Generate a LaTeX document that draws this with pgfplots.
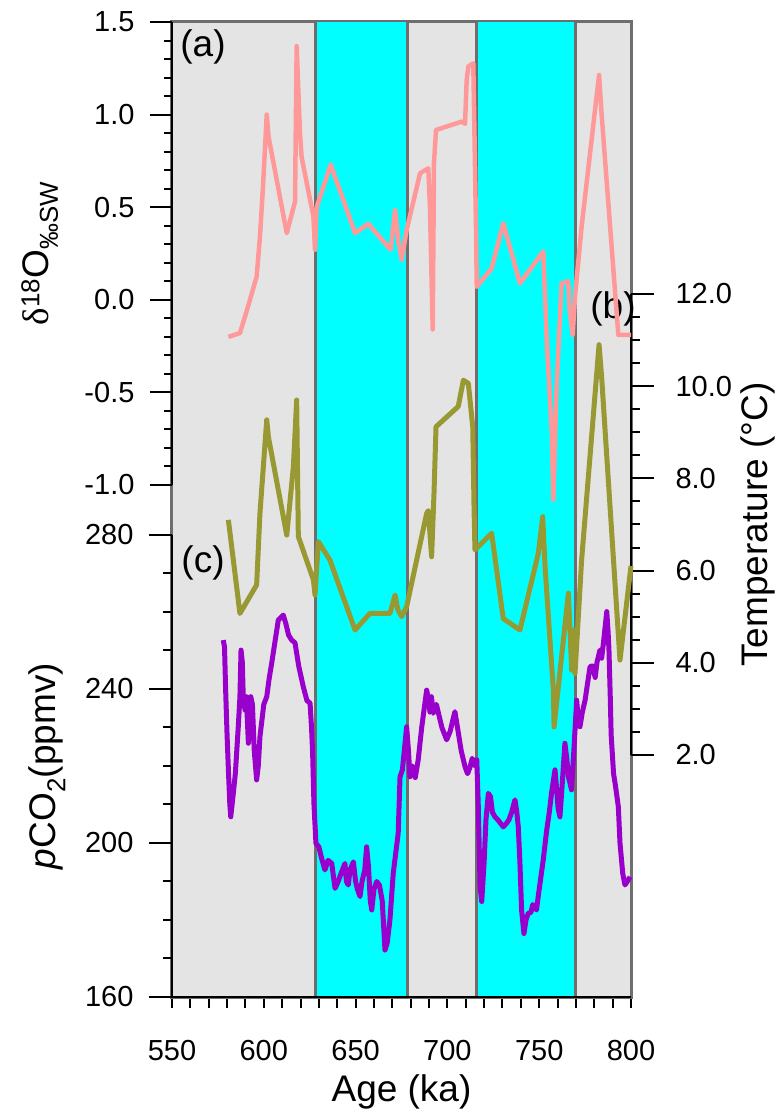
\documentclass[border=0pt]{standalone}
\usepackage{pgfplots}
\pgfplotsset{compat=1.18}
\usepackage{fontspec}
\setmainfont{Liberation Sans}
\newfontfamily\seriffont{Liberation Serif}

\definecolor{bg}{HTML}{E4E4E4}
\definecolor{framegray}{HTML}{6E6E6E}
\definecolor{bandcyan}{HTML}{00FFFF}
\definecolor{pinkline}{HTML}{FF9999}
\definecolor{oliveline}{HTML}{999933}
\definecolor{purpleline}{HTML}{9900CC}

\newcommand{\lblfont}{\fontsize{37}{42}\selectfont}
\pgfplotsset{
  panel/.style={scale only axis, width=459pt, xmin=550, xmax=800, anchor=south west,
    tick style={black, line width=2pt},
    tick label style={font=\fontsize{29}{32}\selectfont},
    /pgf/number format/assume math mode=true,
    no markers, clip=false},
  onedec/.style={yticklabel style={/pgf/number format/fixed,
    /pgf/number format/fixed zerofill, /pgf/number format/precision=1}},
}

\begin{document}
\begin{tikzpicture}
\path[use as bounding box] (-172pt,-116pt) rectangle (609pt,997pt);

% background, interglacial bands, age axis
\begin{axis}[panel, at={(0pt,0pt)}, height=975pt, ymin=0, ymax=1,
  axis background/.style={fill=bg},
  axis line style={draw=framegray, line width=3pt},
  ytick=\empty, xtick={550,600,...,800}, minor x tick num=4, xtick pos=left,
  tick align=outside, major tick length=11pt, minor tick length=11pt,
  xticklabel style={yshift=-29pt},
  xlabel={Age (ka)},
  xlabel style={font=\lblfont, at={(axis description cs:0.5,-0.0974)}, anchor=center}]
\addplot[draw=none, fill=bandcyan] coordinates {(628,1)(678,1)} \closedcycle;
\addplot[draw=none, fill=bandcyan] coordinates {(716,1)(770,1)} \closedcycle;
\addplot[framegray, line width=3pt] coordinates {(628,0)(628,1)};
\addplot[framegray, line width=3pt] coordinates {(678,0)(678,1)};
\addplot[framegray, line width=3pt] coordinates {(716,0)(716,1)};
\addplot[framegray, line width=3pt] coordinates {(770,0)(770,1)};
\end{axis}

\node[font=\lblfont] at (31pt,950pt) {(a)};
\node[font=\lblfont] at (441pt,688pt) {(b)};
\node[font=\lblfont] at (31pt,434pt) {(c)};

% (c) pCO2
\begin{axis}[panel, at={(0pt,0pt)}, height=462pt, ymin=160, ymax=280,
  axis y line=left, axis x line=bottom, axis line style={-, black, line width=2.5pt},
  xtick=\empty, ytick={160,200,240,280}, minor y tick num=3,
  tick align=outside, major tick length=23pt, minor tick length=9pt,
  yticklabel style={xshift=-12pt},
  ylabel={\textit{p}CO\textsubscript{2}(ppmv)},
  ylabel style={font=\lblfont, at={(axis description cs:-0.272,0.5)}, anchor=center}]
\addplot[purpleline, line width=5pt, line join=round] coordinates {
(577.9,252.7)(578.6,251)(579.2,240)(580,228)(580.8,218)(581.5,210)(582,206.8)
(583.4,212.9)(584.5,218)(586.1,230.2)(587,238)(587.6,250.1)(588.3,247)(588.8,238)
(589.8,234.5)(590.5,238)(591.6,225.9)(592.3,232)(592.9,238)(593.8,236)(594.8,224)
(596.1,216.4)(597,220)(597.9,227.6)(599,232)(600,236)(601.6,238)(603,243)(604.3,246.7)
(606,252)(607.9,257.9)(610.6,259.2)(612,257)(613.5,254)(615.2,252.7)(617,252)(619,246)
(621.5,240.6)(623.5,237)(625.2,236.3)(626,230)(626.6,223.3)(627.3,210.3)(628.4,199.9)
(630,199)(631.5,196)(633.3,193)(635,195.5)(637,194.7)(638.8,188.2)(640.5,190)(642,192)
(644.2,194.7)(645,190)(646,189.1)(647,193)(648.8,195.1)(650,190)(651,188)(652.4,186.1)
(653.5,190)(655,193)(656,199)(657,194)(658,185)(658.8,182.6)(660,188)(661.5,190)
(663,189)(664.5,185)(666,172.2)(667.2,174)(668.7,180)(670.5,192.1)(671.5,196)
(673.2,202.5)(674.2,217.2)(675.5,219)(677.8,230.2)(678.8,224)(679.6,217.2)(681,220)
(682.5,217)(684.1,221.6)(686,230)(688.7,239.7)(689.8,237)(690.5,234)(691.3,238)
(692.3,233.7)(694,236)(695,234)(697,230)(699.6,226.8)(701.5,229)(703,232)(704.1,234.1)
(705.5,230)(707.5,224)(709.6,219.8)(711,218)(712.5,220)(713.5,222)(715,220)(716,221.6)
(716.8,210)(717.8,188.6)(718.7,184.8)(720,195)(721,206)(722.3,212.9)(723.5,212)
(724.5,208)(725.9,206.8)(727.5,206)(730.4,204.2)(732,205)(733.5,206)(735,208)
(736.8,211.2)(737.8,208)(738.6,204.2)(739.5,195)(740.4,182.6)(741.7,176.5)(742.8,180)
(744,181.7)(745.5,182)(746.5,184)(748.5,182.6)(750,188)(752.2,195.6)(754,203)
(755.5,208)(756.7,212.9)(758.6,219)(759.5,214)(760.3,209)(761.3,206.8)(762.5,215)
(764,225.9)(765,222)(766,217)(766.8,215.5)(767.6,213.8)(769,225)(770.4,237.1)
(771.3,232)(772.2,230.2)(773.5,234)(775,237.1)(776.5,242)(777.7,245.8)(779,246)
(780.5,243)(781.5,247)(783.1,250.1)(784,248)(785,252)(786.8,260.1)(787.5,255)
(788,250.1)(788.7,238)(789.2,228)(790.5,218)(791.5,215)(793.1,209.4)(794,200)
(795.5,192.1)(796.7,189.1)(798,190)(799.5,191.2)};
\end{axis}

% (b) temperature
\begin{axis}[panel, onedec, at={(0pt,242pt)}, height=461pt, ymin=2, ymax=12,
  axis y line=right, axis x line=none, axis line style={-, black, line width=2.5pt},
  ytick={2,4,6,8,10,12}, minor y tick num=3,
  tick align=outside, major tick length=23pt, minor tick length=9pt,
  yticklabel style={xshift=18pt},
  ylabel={Temperature (°C)},
  ylabel style={font=\lblfont, at={(axis description cs:1.277,0.5)}, anchor=center, rotate=0}]
\addplot[oliveline, line width=5pt, line join=round] coordinates {
(580.7,7.10)(587,5.07)(596.1,5.69)(597.9,7.24)(601.6,9.27)(602.5,8.9)(612.5,6.77)
(616.1,8.25)(617.9,9.70)(618.8,6.74)(627,5.80)(627.9,5.47)(629.7,6.63)(636,6.23)
(649.7,4.71)(657.8,5.07)(668.7,5.07)(671.5,5.47)(673,5.15)(675.1,5.00)(677.8,5.22)
(688.7,7.24)(689.6,7.30)(691.4,6.30)(692.7,7.67)(693.8,9.12)(705.9,9.56)(708.7,10.13)
(711.4,10.06)(713.8,9.12)(714.5,7.39)(715,6.45)(724.1,6.81)(730.4,4.96)(739.5,4.71)
(749.5,6.37)(751.9,7.17)(753.2,6.08)(757.7,3.41)(758.1,2.61)(765.9,5.51)(767.7,3.84)
(768.6,4.71)(769.5,3.77)(773.1,6.23)(782.6,10.9)(784,10.2)(794,4.06)(800,6.1)};
\end{axis}

% (a) delta18O
\begin{axis}[panel, onedec, at={(0pt,512pt)}, height=463pt, ymin=-1, ymax=1.5,
  axis y line=left, axis x line=none, axis line style={-, black, line width=2.5pt},
  ytick={-1,-0.5,0,0.5,1,1.5}, minor y tick num=4,
  tick align=outside, major tick length=22pt, minor tick length=8pt,
  yticklabel style={xshift=-12pt},
  ylabel={{\seriffont δ}\textsuperscript{18}O\textsubscript{‰SW}},
  ylabel style={font=\lblfont, at={(axis description cs:-0.288,0.5)}, anchor=center}]
\addplot[pinkline, line width=4.5pt, line join=round] coordinates {
(580.7,-0.20)(587,-0.18)(591,-0.05)(596.1,0.125)(597.9,0.34)(599.5,0.60)(601.6,1.00)
(602.6,0.88)(612.5,0.36)(617,0.53)(617.9,1.37)(619.7,0.90)(620.6,0.77)(627,0.45)
(627.9,0.27)(628.8,0.50)(636.4,0.73)(649.7,0.36)(656.9,0.41)(669.1,0.27)(671.5,0.485)
(673.4,0.31)(675.1,0.215)(677.8,0.377)(685.1,0.683)(689.6,0.71)(690.5,0.50)(692,-0.16)
(692.7,0.74)(693.8,0.917)(707.8,0.962)(709.6,0.95)(710.5,1.187)(711.4,1.26)(714.1,1.277)
(715.6,0.377)(716,0.07)(724.1,0.17)(730.4,0.413)(739.5,0.089)(752.2,0.26)(754.1,-0.217)
(756.8,-0.703)(757.7,-1.08)(759.5,-0.47)(762.2,0.089)(765.8,0.10)(766.5,-0.05)
(768.2,-0.19)(769.5,0.017)(773.1,0.395)(782.6,1.214)(784,1.0)(793.1,-0.19)(800,-0.19)};
\end{axis}
\end{tikzpicture}
\end{document}
